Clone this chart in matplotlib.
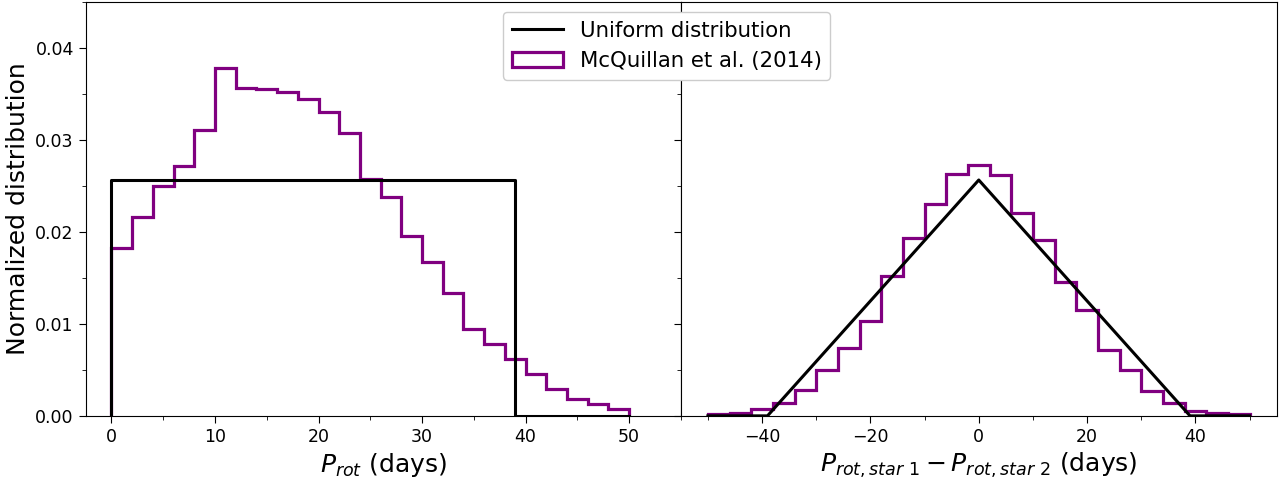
import numpy as np
import matplotlib
matplotlib.use('Agg')
import matplotlib.pyplot as plt
from matplotlib.ticker import MultipleLocator
from matplotlib.patches import Patch

# uniform distribution upper bound (days)
P_MAX = 39.0

# McQuillan et al. (2014) rotation periods, bins of 2 days from 0 to 50
prot_edges = np.arange(0, 52, 2)
prot_density = [0.0183, 0.0216, 0.0250, 0.0272, 0.0311, 0.0378, 0.0356, 0.0355,
                0.0352, 0.0344, 0.0330, 0.0308, 0.0257, 0.0238, 0.0195, 0.0167,
                0.0134, 0.0094, 0.0078, 0.0062, 0.0045, 0.0029, 0.0018, 0.0013,
                0.0008]

# difference of two periods, bins of 4 days from -50 to 50
diff_edges = np.arange(-50, 54, 4)
diff_density = [0.00025, 0.00036, 0.0007, 0.00145, 0.0028, 0.0050, 0.0074,
                0.0103, 0.0152, 0.0193, 0.0230, 0.0263, 0.0273, 0.0262, 0.0221,
                0.0191, 0.0146, 0.0115, 0.0072, 0.0050, 0.0027, 0.0014, 0.00054,
                0.00033, 0.0002]

purple = '#800080'

fig = plt.figure(figsize=(12.87, 4.83), dpi=100)
ax1 = fig.add_axes([0.0665, 0.139, 0.4625, 0.857])
ax2 = fig.add_axes([0.529, 0.139, 0.463, 0.857], sharey=ax1)

# left panel
xu = [0, 0, P_MAX, P_MAX, prot_edges[-1]]
yu = [0, 1 / P_MAX, 1 / P_MAX, 0, 0]
line, = ax1.plot(xu, yu, color='black', lw=2.2, label='Uniform distribution')
ax1.stairs(prot_density, prot_edges, color=purple, lw=2.3, baseline=0)
ax1.set_xlim(-2.5, 55)
ax1.set_ylim(0, 0.045)
ax1.set_xlabel(r'$P_{rot}$ (days)', fontsize=18)
ax1.set_ylabel('Normalized distribution', fontsize=18)

# right panel
xt = [diff_edges[0], -P_MAX, 0, P_MAX, diff_edges[-1]]
yt = [0, 0, 1 / P_MAX, 0, 0]
ax2.plot(xt, yt, color='black', lw=2.2)
ax2.stairs(diff_density, diff_edges, color=purple, lw=2.3, baseline=0)
ax2.set_xlim(-55, 55)
ax2.set_xlabel(r'$P_{rot,star\ 1}-P_{rot,star\ 2}$ (days)', fontsize=18)
ax2.tick_params(labelleft=False)

ax1.xaxis.set_major_locator(MultipleLocator(10))
ax1.xaxis.set_minor_locator(MultipleLocator(5))
ax2.xaxis.set_major_locator(MultipleLocator(20))
ax2.xaxis.set_minor_locator(MultipleLocator(10))
for ax in (ax1, ax2):
    ax.yaxis.set_major_locator(MultipleLocator(0.01))
    ax.yaxis.set_minor_locator(MultipleLocator(0.005))
    ax.tick_params(which='major', length=5, labelsize=12.5)
    ax.tick_params(which='minor', length=3)

box = Patch(facecolor='none', edgecolor=purple, lw=2.3,
            label='McQuillan et al. (2014)')
leg = fig.legend(handles=[line, box], loc='upper center',
                 bbox_to_anchor=(0.518, 0.997), fontsize=15.3, framealpha=1,
                 handlelength=2.4)
leg.set_zorder(10)

fig.savefig('out.png', dpi=100)
